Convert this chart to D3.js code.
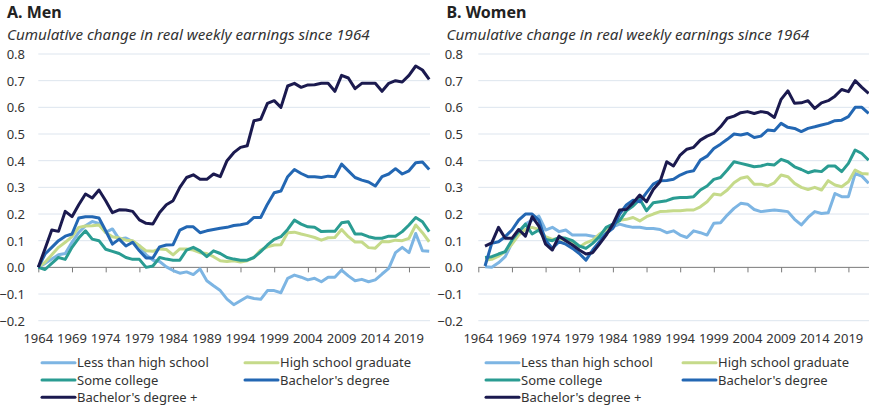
<!DOCTYPE html>
<html>
<head>
<meta charset="utf-8">
<title>earnings by education</title>
<style>
  body { margin: 0; background: #fff; }
  text { font-family: "Noto Sans", "Open Sans", sans-serif; fill: #333; }
</style>
</head>
<body>
<svg id="chart" width="869" height="409"></svg>
<script src="https://cdn.jsdelivr.net/npm/d3@7"></script>
<script>
// series names, same order for both panels
var seriesNames = ["Less than high school", "High school graduate", "Some college", "Bachelor's degree", "Bachelor's degree +"]
var seriesColors = ["#7db5e3", "#c5da8a", "#2a9c92", "#2367b3", "#1b1a4f"]
var yTicks = [0.8, 0.7, 0.6, 0.5, 0.4, 0.3, 0.2, 0.1, 0.0, -0.1, -0.2]
var xTickYears = [1964, 1969, 1974, 1979, 1984, 1989, 1994, 1999, 2004, 2009, 2014, 2019]

// men, 1964 - 2022
var menStart = 1964
var menLessHS = [0, 0.015, 0.031, 0.047, 0.052, 0.094, 0.131, 0.156, 0.172, 0.165, 0.131, 0.144, 0.106, 0.11, 0.097, 0.081, 0.047, 0.027, 0.022, 0.002, -0.012, -0.022, -0.017, -0.027, -0.006, -0.05, -0.069, -0.087, -0.119, -0.14,
  -0.125, -0.11, -0.117, -0.12, -0.087, -0.087, -0.095, -0.041, -0.029, -0.037, -0.047, -0.041, -0.054, -0.037, -0.037, -0.01, -0.032, -0.05, -0.045, -0.054, -0.047, -0.025, -0.004, 0.055, 0.075, 0.055, 0.127, 0.062, 0.06]
var menHSGrad = [0, 0.019, 0.047, 0.075, 0.094, 0.115, 0.15, 0.155, 0.156, 0.159, 0.131, 0.115, 0.11, 0.102, 0.1, 0.081, 0.062, 0.06, 0.069, 0.067, 0.047, 0.069, 0.069, 0.065, 0.055, 0.052, 0.04, 0.025, 0.022, 0.025,
  0.02, 0.025, 0.037, 0.065, 0.077, 0.084, 0.085, 0.13, 0.132, 0.125, 0.119, 0.112, 0.102, 0.111, 0.112, 0.142, 0.115, 0.095, 0.095, 0.074, 0.072, 0.097, 0.096, 0.102, 0.1, 0.109, 0.159, 0.13, 0.096]
var menSomeCollege = [0, -0.008, 0.015, 0.037, 0.03, 0.075, 0.11, 0.137, 0.106, 0.1, 0.068, 0.06, 0.052, 0.037, 0.03, 0.03, 0, 0.005, 0.037, 0.031, 0.027, 0.027, 0.065, 0.075, 0.062, 0.04, 0.062, 0.052, 0.037, 0.031,
  0.027, 0.027, 0.037, 0.059, 0.084, 0.105, 0.115, 0.142, 0.177, 0.162, 0.152, 0.15, 0.134, 0.135, 0.135, 0.167, 0.171, 0.125, 0.125, 0.115, 0.109, 0.109, 0.117, 0.117, 0.134, 0.159, 0.187, 0.171, 0.134]
var menBachelor = [0, 0.05, 0.075, 0.10, 0.117, 0.125, 0.185, 0.19, 0.19, 0.185, 0.137, 0.087, 0.106, 0.08, 0.094, 0.062, 0.035, 0.035, 0.077, 0.084, 0.085, 0.14, 0.152, 0.152, 0.13, 0.137, 0.142, 0.147, 0.15, 0.157,
  0.16, 0.165, 0.187, 0.187, 0.237, 0.28, 0.286, 0.34, 0.367, 0.352, 0.34, 0.34, 0.337, 0.342, 0.34, 0.387, 0.362, 0.337, 0.327, 0.32, 0.305, 0.34, 0.35, 0.37, 0.35, 0.362, 0.392, 0.395, 0.367]
var menBachelorPlus = [0, 0.07, 0.14, 0.135, 0.21, 0.19, 0.235, 0.275, 0.26, 0.29, 0.25, 0.205, 0.216, 0.215, 0.21, 0.178, 0.165, 0.163, 0.206, 0.235, 0.25, 0.30, 0.337, 0.347, 0.33, 0.33, 0.35, 0.34, 0.40, 0.43,
  0.45, 0.456, 0.55, 0.555, 0.615, 0.625, 0.60, 0.68, 0.69, 0.675, 0.684, 0.685, 0.69, 0.69, 0.66, 0.72, 0.71, 0.67, 0.69, 0.69, 0.69, 0.66, 0.69, 0.70, 0.695, 0.72, 0.755, 0.74, 0.705]

// women, 1965 - 2022
var womenStart = 1965
var womenLessHS = [0.002, 0, 0.017, 0.04, 0.092, 0.125, 0.162, 0.177, 0.192, 0.14, 0.15, 0.134, 0.14, 0.121, 0.121, 0.121, 0.117, 0.112, 0.127, 0.152, 0.162, 0.155, 0.15, 0.15, 0.146, 0.146, 0.142,
  0.13, 0.137, 0.121, 0.112, 0.137, 0.13, 0.121, 0.165, 0.167, 0.196, 0.221, 0.24, 0.237, 0.217, 0.209, 0.212, 0.215, 0.212, 0.209, 0.18, 0.159, 0.187, 0.209, 0.202, 0.205, 0.277, 0.265, 0.265, 0.352, 0.342, 0.315]
var womenHSGrad = [0.027, 0.03, 0.042, 0.059, 0.087, 0.121, 0.142, 0.15, 0.142, 0.115, 0.105, 0.109, 0.1, 0.092, 0.075, 0.092, 0.102, 0.125, 0.14, 0.155, 0.177, 0.18, 0.187, 0.174, 0.19, 0.2, 0.209,
  0.21, 0.212, 0.212, 0.215, 0.215, 0.227, 0.246, 0.275, 0.271, 0.29, 0.317, 0.334, 0.34, 0.312, 0.312, 0.305, 0.317, 0.346, 0.34, 0.315, 0.3, 0.292, 0.3, 0.29, 0.325, 0.309, 0.302, 0.321, 0.365, 0.352, 0.35]
var womenSomeCollege = [0.037, 0.04, 0.05, 0.059, 0.102, 0.134, 0.162, 0.125, 0.14, 0.105, 0.1, 0.112, 0.109, 0.1, 0.08, 0.071, 0.09, 0.115, 0.15, 0.162, 0.175, 0.212, 0.23, 0.255, 0.212, 0.242, 0.246,
  0.25, 0.259, 0.262, 0.262, 0.265, 0.29, 0.305, 0.33, 0.337, 0.365, 0.396, 0.39, 0.384, 0.377, 0.38, 0.387, 0.384, 0.405, 0.396, 0.377, 0.367, 0.355, 0.362, 0.359, 0.38, 0.38, 0.359, 0.39, 0.44, 0.427, 0.402]
var womenBachelor = [0.005, 0.09, 0.096, 0.115, 0.14, 0.177, 0.2, 0.2, 0.177, 0.102, 0.071, 0.096, 0.087, 0.071, 0.052, 0.027, 0.065, 0.096, 0.127, 0.146, 0.2, 0.234, 0.252, 0.246, 0.28, 0.312, 0.325,
  0.326, 0.33, 0.346, 0.357, 0.362, 0.402, 0.417, 0.446, 0.462, 0.48, 0.5, 0.496, 0.502, 0.487, 0.492, 0.515, 0.512, 0.54, 0.525, 0.521, 0.509, 0.521, 0.527, 0.534, 0.54, 0.55, 0.552, 0.565, 0.6, 0.6, 0.577]
var womenBachelorPlus = [0.08, 0.092, 0.15, 0.109, 0.109, 0.142, 0.117, 0.19, 0.155, 0.087, 0.065, 0.117, 0.1, 0.084, 0.065, 0.05, 0.055, 0.087, 0.121, 0.162, 0.215, 0.217, 0.242, 0.271, 0.246, 0.292, 0.321,
  0.396, 0.38, 0.421, 0.443, 0.45, 0.477, 0.492, 0.502, 0.527, 0.559, 0.567, 0.58, 0.584, 0.577, 0.584, 0.58, 0.562, 0.63, 0.662, 0.615, 0.617, 0.625, 0.596, 0.617, 0.625, 0.642, 0.667, 0.659, 0.7, 0.675, 0.652]

var svg = d3.select('#chart')

var y = d3.scaleLinear().domain([-0.2, 0.8]).range([320.7, 54])

function drawPanel(opt) {
    var g = svg.append('g')
    var x = d3.scaleLinear().domain([1964, 2022]).range([opt.x0, opt.x1])

    // titles
    g.append('text').attr('x', opt.tx).attr('y', 18)
        .style('font-size', '16px').style('font-weight', 'bold').style('fill', '#222')
        .text(opt.title)
    g.append('text').attr('x', opt.tx).attr('y', 39.5)
        .style('font-size', '15.2px').style('font-style', 'italic')
        .text('Cumulative change in real weekly earnings since 1964')

    // gridlines + y labels
    g.selectAll('.grid').data(yTicks.filter(function(d){ return d !== 0 }))
        .enter().append('line')
        .attr('x1', opt.x0).attr('x2', opt.gx1)
        .attr('y1', function(d){ return y(d) }).attr('y2', function(d){ return y(d) })
        .style('stroke', '#dde5ee').style('stroke-width', 1)
    g.selectAll('.ylab').data(yTicks)
        .enter().append('text')
        .attr('x', opt.yl).attr('y', function(d){ return y(d) + 5 })
        .attr('text-anchor', 'end')
        .style('font-size', '13px')
        .text(function(d){ return d3.format('.1f')(d) })

    // x axis along zero
    var xAxis = d3.axisBottom(x).tickValues(xTickYears).tickSize(5).tickFormat('')
    var ax = g.append('g').attr('transform', 'translate(0,' + y(0) + ')').call(xAxis)
    ax.select('.domain').attr('d', 'M' + opt.x0 + ',0H' + opt.gx1).style('stroke', '#7a7a7a')
    ax.selectAll('.tick line').style('stroke', '#7a7a7a')
    g.selectAll('.xlab').data(xTickYears)
        .enter().append('text')
        .attr('x', function(d){ return x(d) }).attr('y', 343)
        .attr('text-anchor', 'middle')
        .style('font-size', '13px')
        .text(function(d){ return d })

    // lines
    var line = d3.line()
        .x(function(d, i){ return x(opt.start + i) })
        .y(function(d){ return y(d) })
    g.selectAll('.series').data(opt.series)
        .enter().append('path')
        .attr('d', function(d){ return line(d) })
        .style('fill', 'none')
        .style('stroke', function(d, i){ return seriesColors[i] })
        .style('stroke-width', 3)
        .style('stroke-linejoin', 'round')

    // legend, two columns
    var leg = g.selectAll('.leg').data(seriesNames)
        .enter().append('g')
        .attr('transform', function(d, i){
            var lx = i % 2 === 0 ? opt.lx[0] : opt.lx[1]
            return 'translate(' + lx + ',' + (362.7 + Math.floor(i / 2) * 17.3) + ')'
        })
    leg.append('line')
        .attr('x1', 0).attr('x2', 33)
        .style('stroke', function(d, i){ return seriesColors[i] })
        .style('stroke-width', 3).style('stroke-linecap', 'round')
    leg.append('text')
        .attr('x', 35).attr('y', 4.5)
        .style('font-size', '13px')
        .text(function(d){ return d })
}

drawPanel({
    title: 'A. Men', tx: 7, x0: 38.3, x1: 429.2, gx1: 430, yl: 25,
    start: menStart, lx: [42, 245],
    series: [menLessHS, menHSGrad, menSomeCollege, menBachelor, menBachelorPlus]
})
drawPanel({
    title: 'B. Women', tx: 446.5, x0: 478.3, x1: 868.6, gx1: 869, yl: 463,
    start: womenStart, lx: [486, 683],
    series: [womenLessHS, womenHSGrad, womenSomeCollege, womenBachelor, womenBachelorPlus]
})
</script>
</body>
</html>
